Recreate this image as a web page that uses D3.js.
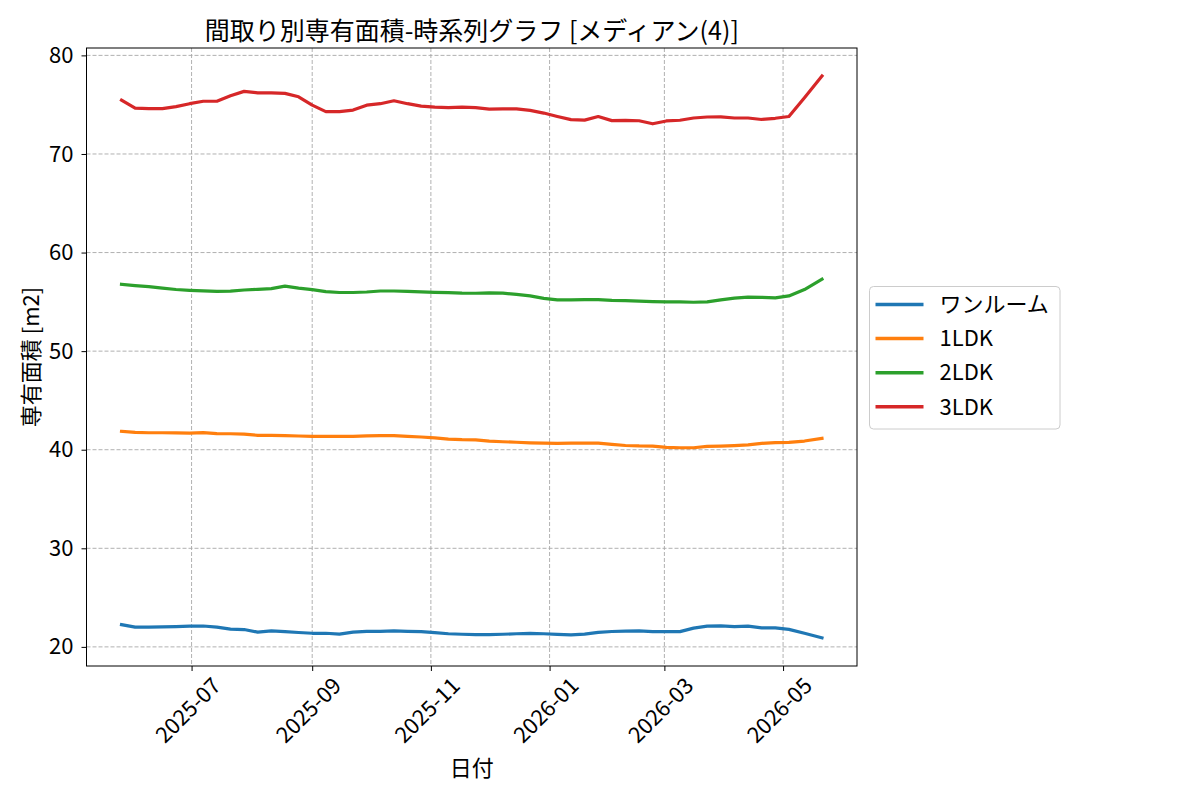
<!DOCTYPE html>
<html>
<head>
<meta charset="utf-8">
<script src="https://cdn.jsdelivr.net/npm/d3@7"></script>
<style>
  body { margin: 0; background: #fff; }
  svg text { font-family: "Noto Sans CJK JP", "Noto Sans", sans-serif; fill: #000; }
</style>
</head>
<body>
<svg id="chart" width="1200" height="800"></svg>
<script>
// weekly dates (last two are a bit off-week)
var dates = [
  "2025-05-26","2025-06-02","2025-06-09","2025-06-16","2025-06-23","2025-06-30",
  "2025-07-07","2025-07-14","2025-07-21","2025-07-28","2025-08-04","2025-08-11",
  "2025-08-18","2025-08-25","2025-09-01","2025-09-08","2025-09-15","2025-09-22",
  "2025-09-29","2025-10-06","2025-10-13","2025-10-20","2025-10-27","2025-11-03",
  "2025-11-10","2025-11-17","2025-11-24","2025-12-01","2025-12-08","2025-12-15",
  "2025-12-22","2025-12-29","2026-01-05","2026-01-12","2026-01-19","2026-01-26",
  "2026-02-02","2026-02-09","2026-02-16","2026-02-23","2026-03-02","2026-03-09",
  "2026-03-16","2026-03-23","2026-03-30","2026-04-06","2026-04-13","2026-04-20",
  "2026-04-27","2026-05-04","2026-05-12","2026-05-21"
];

var oneRoom = [
  22.26,22.0,22.0,22.02,22.05,22.1,22.12,22.0,21.8,21.76,21.5,21.62,
  21.55,21.46,21.38,21.38,21.3,21.5,21.57,21.58,21.62,21.58,21.55,21.45,
  21.33,21.28,21.25,21.25,21.28,21.33,21.36,21.33,21.27,21.22,21.3,21.47,
  21.56,21.6,21.62,21.55,21.55,21.55,21.9,22.1,22.13,22.05,22.1,21.93,
  21.92,21.78,21.38,20.91
];
var ldk1 = [
  41.86,41.76,41.72,41.72,41.7,41.69,41.74,41.63,41.62,41.58,41.46,41.45,
  41.42,41.39,41.36,41.35,41.35,41.35,41.4,41.42,41.42,41.36,41.29,41.2,
  41.08,41.02,41.0,40.87,40.81,40.76,40.7,40.66,40.64,40.66,40.67,40.67,
  40.55,40.43,40.38,40.37,40.23,40.2,40.2,40.33,40.37,40.42,40.5,40.65,
  40.72,40.75,40.88,41.15
];
var ldk2 = [
  56.78,56.65,56.55,56.4,56.25,56.17,56.12,56.07,56.08,56.2,56.27,56.34,
  56.6,56.4,56.24,56.04,55.95,55.95,56.0,56.1,56.1,56.06,56.02,55.97,
  55.94,55.88,55.87,55.9,55.88,55.75,55.6,55.35,55.2,55.19,55.22,55.22,
  55.15,55.12,55.08,55.03,54.99,54.99,54.96,54.99,55.2,55.38,55.48,55.46,
  55.4,55.6,56.25,57.3
];
var ldk3 = [
  75.45,74.65,74.6,74.6,74.8,75.1,75.35,75.35,75.9,76.35,76.2,76.2,
  76.15,75.8,74.95,74.3,74.3,74.45,74.95,75.1,75.4,75.1,74.85,74.75,
  74.7,74.75,74.7,74.55,74.58,74.58,74.42,74.15,73.8,73.48,73.43,73.8,
  73.38,73.4,73.37,73.06,73.35,73.42,73.65,73.75,73.77,73.65,73.65,73.5,
  73.62,73.8,75.7,77.9
];

var seriesNames = ["ワンルーム", "1LDK", "2LDK", "3LDK"];
var seriesColors = ["#1f77b4", "#ff7f0e", "#2ca02c", "#d62728"];
var xTickDates = ["2025-07-01","2025-09-01","2025-11-01","2026-01-01","2026-03-01","2026-05-01"];
var yTicks = [20, 30, 40, 50, 60, 70, 80];

var parse = d3.timeParse("%Y-%m-%d");
var seriesValues = [oneRoom, ldk1, ldk2, ldk3];
var series = seriesNames.map(function(name, i){
  return {
    name: name,
    color: seriesColors[i],
    points: dates.map(function(d, j){ return { date: parse(d), v: seriesValues[i][j] }; })
  };
});

var plot = { left: 86.5, right: 857, top: 48, bottom: 666 };
var tickFont = "22px";
var svg = d3.select("#chart");

// matplotlib-like 5% margins
var t0 = parse(dates[0]), t1 = parse(dates[dates.length - 1]);
var span = t1 - t0;
var x = d3.scaleTime()
  .domain([new Date(+t0 - span * 0.05), new Date(+t1 + span * 0.05)])
  .range([plot.left, plot.right]);

var allV = d3.merge(seriesValues);
var vmin = d3.min(allV), vmax = d3.max(allV), vspan = vmax - vmin;
var y = d3.scaleLinear()
  .domain([vmin - vspan * 0.05, vmax + vspan * 0.05])
  .range([plot.bottom, plot.top]);

var xTicks = xTickDates.map(parse);

// grid
var grid = svg.append("g").attr("class", "grid");
grid.selectAll(".gx").data(xTicks).enter().append("line")
  .attr("x1", function(d){ return x(d); }).attr("x2", function(d){ return x(d); })
  .attr("y1", plot.top).attr("y2", plot.bottom)
  .attr("stroke", "#a8a8a8").attr("stroke-width", 0.9).attr("stroke-dasharray", "4,2");
grid.selectAll(".gy").data(yTicks).enter().append("line")
  .attr("x1", plot.left).attr("x2", plot.right)
  .attr("y1", function(d){ return y(d); }).attr("y2", function(d){ return y(d); })
  .attr("stroke", "#a8a8a8").attr("stroke-width", 0.9).attr("stroke-dasharray", "4,2");

// lines
var line = d3.line()
  .x(function(d){ return x(d.date); })
  .y(function(d){ return y(d.v); });

svg.append("g").selectAll("path").data(series).enter().append("path")
  .attr("d", function(d){ return line(d.points); })
  .attr("fill", "none")
  .attr("stroke", function(d){ return d.color; })
  .attr("stroke-width", 3.2)
  .attr("stroke-linejoin", "round")
  .attr("stroke-linecap", "square");

// frame
svg.append("rect")
  .attr("x", plot.left).attr("y", plot.top)
  .attr("width", plot.right - plot.left).attr("height", plot.bottom - plot.top)
  .attr("fill", "none").attr("stroke", "#000").attr("stroke-width", 1);

// y axis
var yAxis = d3.axisLeft(y).tickValues(yTicks).tickSize(5).tickPadding(8);
var gy = svg.append("g").attr("transform", "translate(" + plot.left + ",0)").call(yAxis);
gy.select(".domain").remove();
gy.selectAll(".tick line").attr("stroke", "#000");
gy.selectAll("text").style("font-size", tickFont).attr("font-family", null);

// x axis
var xAxis = d3.axisBottom(x).tickValues(xTicks).tickSize(5).tickFormat(d3.timeFormat("%Y-%m"));
var gx = svg.append("g").attr("transform", "translate(0," + plot.bottom + ")").call(xAxis);
gx.select(".domain").remove();
gx.selectAll(".tick line").attr("stroke", "#000");
gx.selectAll("text")
  .style("font-size", tickFont)
  .attr("font-family", null)
  .attr("text-anchor", "middle")
  .attr("dy", "0.35em")
  .attr("y", null)
  .each(function(){
    var len = this.getComputedTextLength();
    var ext = (len + 16) * Math.SQRT1_2;
    d3.select(this).attr("transform", "translate(-4," + (10 + ext / 2) + ") rotate(-45)");
  });

// title and axis labels
svg.append("text")
  .attr("x", (plot.left + plot.right) / 2).attr("y", 40)
  .attr("text-anchor", "middle").style("font-size", "25px")
  .text("間取り別専有面積-時系列グラフ [メディアン(4)]");

svg.append("text")
  .attr("x", (plot.left + plot.right) / 2).attr("y", 776)
  .attr("text-anchor", "middle").style("font-size", "22px")
  .text("日付");

svg.append("text")
  .attr("transform", "translate(39," + ((plot.top + plot.bottom) / 2) + ") rotate(-90)")
  .attr("text-anchor", "middle").style("font-size", "22px")
  .text("専有面積 [m2]");

// legend
var lg = svg.append("g").attr("transform", "translate(869.5,286.5)");
lg.append("rect")
  .attr("width", 190.5).attr("height", 142.5)
  .attr("rx", 4).attr("ry", 4)
  .attr("fill", "#fff").attr("fill-opacity", 0.8)
  .attr("stroke", "#cccccc").attr("stroke-width", 1);
var items = lg.selectAll(".item").data(series).enter().append("g")
  .attr("transform", function(d, i){ return "translate(0," + (18 + i * 34.1) + ")"; });
items.append("line")
  .attr("x1", 6).attr("x2", 54)
  .attr("stroke", function(d){ return d.color; })
  .attr("stroke-width", 3.5);
items.append("text")
  .attr("x", 70).attr("dy", "0.35em")
  .style("font-size", "22px")
  .text(function(d){ return d.name; });
</script>
</body>
</html>
